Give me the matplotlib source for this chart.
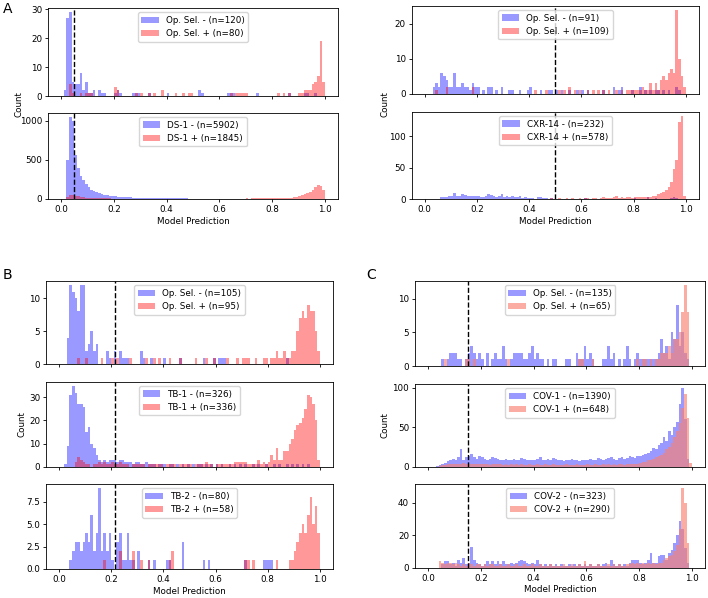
import numpy as np
import matplotlib
matplotlib.use("Agg")
import matplotlib.pyplot as plt

W, H = 708, 598
plt.rcParams.update({
    "font.family": "DejaVu Sans",
    "font.size": 6.3,
    "legend.fontsize": 6.3,
    "axes.linewidth": 0.6,
    "xtick.major.size": 2.2,
    "ytick.major.size": 2.2,
    "xtick.major.width": 0.6,
    "ytick.major.width": 0.6,
    "xtick.major.pad": 2,
    "ytick.major.pad": 2,
    "axes.labelpad": 2,
})

# ---------------- data: counts per bin (100 bins of width 0.01 on [0, 1]) ----------------
bin_edges = np.linspace(0, 1, 101)
tick_values = [0.0, 0.2, 0.4, 0.6, 0.8, 1.0]

# Panel A, left: Op. Sel. / DS-1
A1_neg = [0,2,27,29,5,4,4,8,2,5, 1,1,2,0,2,1,1,0,0,0, 1,2,1,0,0,0,0,1,1,1, 0,0,0,1,0,0,0,0,0,0,
          1,0,0,0,0,0,0,0,0,0, 0,0,2,1,0,0,0,0,0,0, 0,0,0,1,1,1,0,0,0,0, 0,0,0,0,1,0,0,0,0,0,
          0,0,0,0,0,0,1,0,0,0, 0,0,1,1,0,0,1,0,0,0]
A1_pos = [0,0,0,4,1,0,0,1,0,1, 1,1,0,0,0,0,0,0,0,0, 3,2,0,0,0,0,0,0,1,0, 1,0,0,1,0,1,0,0,2,0,
          0,0,0,1,0,0,1,0,1,1, 0,0,0,0,0,0,0,0,0,0, 0,0,0,0,1,0,1,1,1,1, 1,0,0,0,0,0,0,0,0,0,
          0,0,1,0,1,0,1,0,0,0, 1,1,2,2,2,4,5,7,19,5]
A2_neg = [0,0,500,1050,1000,560,400,300,240,190, 150,120,100,85,75,62,55,48,42,38,
          34,31,28,26,24,22,20,19,18,17, 16,15,14,13,12,11,11,10,10,9,
          9,8,8,8,7,7,7,7,6,6, 6,6,6,6,5,5,5,5,5,5, 5,5,5,5,5,5,4,4,4,4,
          4,4,4,4,4,4,4,4,4,4, 4,4,4,4,4,4,4,4,4,4, 4,4,4,4,4,4,3,3,2,1]
A2_pos = [0,0,20,45,50,40,32,25,20,16, 14,12,10,9,9,8,8,7,7,6, 6,6,5,6,5,6,5,5,6,5,
          5,5,6,5,5,5,6,5,5,5, 6,5,5,6,5,5,5,5,6,5, 5,5,6,5,5,5,6,5,5,6,
          5,6,5,6,6,5,6,6,6,6, 7,6,7,7,8,7,8,8,9,9, 10,10,11,12,13,14,16,19,23,28,
          35,45,58,75,95,120,150,175,165,120]

# Panel A, right: Op. Sel. / CXR-14
A3_neg = [0,0,0,2,3,2,6,5,4,2, 2,6,2,2,3,2,2,1,3,2, 2,0,1,0,2,2,0,1,0,2, 0,0,1,1,0,0,1,0,0,1,
          2,0,0,0,1,0,0,1,1,0, 1,0,1,0,0,1,0,0,1,0, 1,0,1,0,0,0,0,0,1,0, 0,0,2,0,1,2,0,0,0,1,
          0,0,2,0,1,0,1,0,1,1, 0,1,0,1,0,0,2,1,0,0]
A3_pos = [0,0,0,0,1,0,0,0,2,0, 0,0,0,0,0,0,0,0,2,0, 0,0,0,0,0,0,0,0,0,0, 0,0,0,0,0,0,0,0,0,0,
          0,0,1,0,0,0,1,0,0,0, 0,1,0,1,0,2,0,1,0,1, 0,0,1,0,1,0,1,0,1,0, 1,0,0,1,0,1,0,1,1,1,
          1,1,1,2,1,1,3,1,3,1, 4,5,4,6,7,6,24,10,5,2]
A4_neg = [0,0,0,0,0,0,3,4,3,6, 5,10,6,5,8,7,6,5,6,5, 6,3,4,6,9,7,5,4,6,9, 3,5,4,5,3,4,5,2,3,2,
          2,2,1,3,4,2,2,1,2,1, 1,0,1,1,0,1,0,1,1,0, 0,2,0,1,0,1,0,0,1,0, 1,0,1,0,1,0,1,0,1,0,
          2,0,1,1,0,3,0,1,2,0, 1,1,1,1,2,3,2,1,0,0]
A4_pos = [0,0,0,0,0,0,0,0,1,0, 1,0,1,1,0,1,0,1,1,0, 1,0,1,0,1,1,0,1,0,1, 0,1,1,0,1,0,1,0,1,1,
          0,1,0,1,1,1,0,1,2,1, 1,2,1,1,2,1,2,1,1,2, 1,2,2,1,2,2,1,2,3,2, 2,2,3,5,2,3,2,3,4,2,
          3,3,4,3,4,3,4,5,6,8, 10,12,15,20,28,48,62,122,132,5]

# Panel B: Op. Sel. / TB-1 / TB-2
B1_neg = [0,0,0,4,12,11,10,8,12,12, 2,3,5,2,3,0,0,0,2,1, 0,2,0,2,1,1,1,0,0,0, 0,2,1,0,0,1,0,0,0,0,
          1,0,0,0,0,0,1,0,0,0, 0,0,0,0,0,1,0,0,0,1, 0,1,1,1,0,0,0,0,0,0, 0,0,0,0,0,0,0,0,0,0,
          0,0,0,0,0,0,0,1,0,0, 0,0,0,0,0,0,0,0,0,0]
B1_pos = [0,0,0,0,0,0,0,1,0,0, 1,0,0,0,0,0,1,0,0,0, 1,0,1,0,0,0,0,1,0,0, 0,0,0,1,0,0,1,0,1,0,
          0,0,1,0,0,0,1,0,0,0, 0,0,1,0,0,0,1,0,0,1, 0,0,0,0,1,0,0,0,1,0, 1,1,1,0,0,1,0,0,1,1,
          0,1,1,2,1,1,2,1,1,2, 2,5,7,8,7,9,8,8,5,2]
B2_neg = [0,0,1,9,31,35,32,27,27,26, 15,17,10,8,5,3,2,3,2,3, 3,3,2,3,3,2,2,2,1,2, 2,1,1,2,1,1,1,0,1,1,
          1,0,1,1,0,1,0,1,0,1, 0,1,0,1,1,0,1,0,1,0, 1,0,1,0,0,1,0,1,0,1, 0,1,0,0,1,0,1,0,0,1,
          0,0,1,0,1,0,0,1,0,1, 0,1,0,1,0,1,0,0,0,0]
B2_pos = [0,0,0,0,0,0,2,4,3,2, 1,1,0,1,1,2,1,2,1,1, 2,1,1,2,1,1,1,0,1,1, 1,1,1,0,1,1,1,1,1,1,
          0,1,1,1,1,0,1,1,1,1, 1,0,1,1,1,1,2,1,1,0, 1,1,1,1,1,1,1,2,2,2, 2,2,1,1,1,1,3,1,2,1,
          2,5,3,8,3,3,7,7,10,12, 16,18,19,21,25,31,30,27,20,3]
B3_neg = [0,0,0,0,1,2,3,3,2,3, 4,3,6,2,4,9,2,4,2,4, 1,0,3,4,1,1,4,1,1,0, 2,0,0,0,1,0,1,0,0,0,
          0,1,1,0,0,0,0,3,0,0, 0,0,0,0,0,1,0,1,0,0, 0,0,0,0,0,0,0,0,0,0, 0,1,0,0,0,0,0,0,1,1,
          1,1,0,0,0,0,0,0,0,0, 0,0,0,0,0,0,0,0,0,0]
B3_pos = [0,0,0,0,0,0,0,0,0,0, 0,0,0,0,0,0,0,1,0,0, 0,0,0,2,0,0,0,0,2,0, 0,1,0,0,1,0,0,0,0,0,
          0,0,1,2,0,0,0,0,0,0, 0,0,0,0,0,0,0,0,0,0, 0,0,0,0,0,0,0,0,0,0, 0,1,1,0,1,0,0,0,0,0,
          0,0,0,1,0,0,0,0,1,1, 2,3,4,5,4,6,8,5,7,4]

# Panel C: Op. Sel. / COV-1 / COV-2
C1_neg = [0,0,0,0,0,1,0,1,2,2, 2,1,1,0,1,2,3,2,1,2, 1,0,2,0,1,2,1,1,3,1, 0,1,2,2,2,2,1,1,2,3,
          1,2,1,1,0,1,0,1,1,0, 0,0,1,1,0,0,2,1,1,3, 1,2,1,0,0,0,1,1,3,1, 2,0,1,0,1,3,1,0,1,2,
          1,1,1,1,1,1,1,2,4,2, 3,1,5,4,9,3,5,2,1,0]
C1_pos = [0,0,0,0,0,0,1,0,0,0, 0,0,0,0,1,1,0,1,0,0, 0,0,0,0,0,0,0,0,0,0, 1,0,0,0,0,0,0,0,0,0,
          0,0,0,0,0,0,0,0,0,0, 0,0,0,0,0,0,0,1,1,0, 0,0,1,0,0,0,0,0,0,0, 0,0,0,0,0,0,0,0,0,1,
          0,1,1,0,1,0,1,1,2,2, 2,3,2,4,4,5,8,12,8,0]
C2_neg = [0,0,0,1,2,3,5,7,8,10, 8,12,22,8,12,14,16,12,10,14, 12,10,9,10,12,11,10,9,8,10,
          8,9,10,8,9,11,10,9,8,9, 8,10,12,9,8,10,9,11,10,9, 8,7,9,8,10,9,8,7,9,8,
          9,10,8,9,11,10,9,10,11,12, 10,9,11,12,10,11,13,12,11,13, 14,15,16,18,20,24,22,28,30,38,
          32,45,40,50,57,80,100,60,10,0]
C2_pos = [0,0,0,0,1,2,2,3,3,4, 3,4,3,5,3,4,3,4,3,3, 3,4,3,2,3,3,4,3,2,3, 2,3,2,3,2,3,2,2,3,2,
          2,3,2,2,3,2,2,3,2,2, 2,2,3,2,2,2,3,2,2,2, 3,2,2,3,2,2,3,2,3,2, 3,2,3,3,2,3,3,3,4,3,
          5,6,6,8,8,10,12,14,15,18, 22,25,30,38,45,55,75,92,62,5]
C3_neg = [0,0,0,0,0,2,4,4,2,3, 1,5,3,6,2,3,13,5,3,2, 1,2,4,2,4,2,4,2,4,2, 2,3,2,3,4,5,4,3,2,3,
          2,5,2,1,2,1,2,1,2,1, 2,1,1,2,1,2,1,2,1,2, 1,2,1,1,2,1,2,3,1,5, 2,1,2,1,2,1,3,5,5,5,
          3,2,3,5,9,3,3,7,8,8, 5,9,11,15,20,29,24,12,3,0]
C3_pos = [0,0,0,0,4,3,2,3,3,2, 3,2,1,2,1,3,2,1,2,2, 1,2,1,2,2,1,1,2,1,1, 2,1,1,2,1,1,2,1,1,2,
          1,1,2,1,1,1,2,1,1,1, 1,2,1,1,2,1,1,2,1,4, 1,2,1,1,2,1,1,1,2,1, 2,1,2,1,1,2,2,3,2,3,
          2,3,2,3,2,3,2,3,3,5, 6,7,8,10,14,24,49,40,15,0]

labels_neg = ["Op. Sel. - (n=120)", "DS-1 - (n=5902)", "Op. Sel. - (n=91)", "CXR-14 - (n=232)",
              "Op. Sel. - (n=105)", "TB-1 - (n=326)", "TB-2 - (n=80)",
              "Op. Sel. - (n=135)", "COV-1 - (n=1390)", "COV-2 - (n=323)"]
labels_pos = ["Op. Sel. + (n=80)", "DS-1 + (n=1845)", "Op. Sel. + (n=109)", "CXR-14 + (n=578)",
              "Op. Sel. + (n=95)", "TB-1 + (n=336)", "TB-2 + (n=58)",
              "Op. Sel. + (n=65)", "COV-1 + (n=648)", "COV-2 + (n=290)"]
thresholds = [0.048, 0.048, 0.5, 0.5, 0.214, 0.214, 0.214, 0.15, 0.15, 0.15]

negs = [A1_neg, A2_neg, A3_neg, A4_neg, B1_neg, B2_neg, B3_neg, C1_neg, C2_neg, C3_neg]
poss = [A1_pos, A2_pos, A3_pos, A4_pos, B1_pos, B2_pos, B3_pos, C1_pos, C2_pos, C3_pos]

# ---------------- layout (pixel boxes: left, top, right, bottom) ----------------
boxes = [(48, 8, 338, 96), (48, 112.7, 338, 199),
         (411.7, 5.7, 699, 93.7), (411.7, 111.7, 699, 199.3),
         (46, 281, 333, 364.3), (46, 381.7, 333, 466.7), (46, 484, 333, 569),
         (415, 281, 705, 366), (415, 384, 705, 466.7), (415, 484, 705, 567.7)]
bottom_panel = [False, True, False, True, False, False, True, False, False, True]
red_colors = ["red"] * 7 + ["salmon"] * 3
red_alpha = [0.4] * 7 + [0.65] * 3


def frac(l, t, r, b):
    return [l / W, 1 - b / H, (r - l) / W, (b - t) / H]


fig = plt.figure(figsize=(W / 100, H / 100), dpi=100)
centers = (bin_edges[:-1] + bin_edges[1:]) / 2
axes = []
for i in range(10):
    ax = fig.add_axes(frac(*boxes[i]))
    ax.hist(centers, bins=bin_edges, weights=negs[i], color="blue", alpha=0.4, label=labels_neg[i])
    ax.hist(centers, bins=bin_edges, weights=poss[i], color=red_colors[i], alpha=red_alpha[i],
            label=labels_pos[i])
    ax.axvline(thresholds[i], color="black", ls="--", lw=1.0)
    ax.set_xlim(-0.05, 1.05)
    ax.set_xticks(tick_values)
    if bottom_panel[i]:
        ax.set_xlabel("Model Prediction")
    else:
        ax.tick_params(labelbottom=False)
    ax.legend(loc="upper center")
    axes.append(ax)

axes[5].set_ylabel("Count")
axes[8].set_ylabel("Count")
fig.text(19 / W, 1 - 104 / H, "Count", rotation=90, ha="center", va="center")
fig.text(385 / W, 1 - 104 / H, "Count", rotation=90, ha="center", va="center")

fig.text(3 / W, 1 - 2 / H, "A", fontsize=10, va="top", ha="left")
fig.text(3 / W, 1 - 268 / H, "B", fontsize=10, va="top", ha="left")
fig.text(366 / W, 1 - 268 / H, "C", fontsize=10, va="top", ha="left")

fig.savefig("out.png", dpi=100)
